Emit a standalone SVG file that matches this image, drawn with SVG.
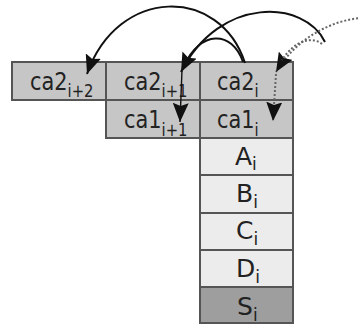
<svg xmlns="http://www.w3.org/2000/svg" width="360" height="325" viewBox="0 0 360 325">
<defs>
<style>
.ca{fill:#c6c6c6;stroke:#555;stroke-width:2}
.lt{fill:#ececec;stroke:#555;stroke-width:2}
.dk{fill:#9e9e9e;stroke:#555;stroke-width:2}
text{font-family:"DejaVu Sans",sans-serif;fill:#222}
.m{font-size:24px}
.b{font-size:25px}
.s{font-size:17px}
.arc{fill:none;stroke:#111;stroke-width:2}
.thin{fill:none;stroke:#111;stroke-width:1.4}
.dot{fill:none;stroke:#666;stroke-width:2;stroke-dasharray:2 2}
</style>
<marker id="ah" markerUnits="userSpaceOnUse" markerWidth="20" markerHeight="16" refX="19" refY="8" orient="auto" viewBox="0 0 20 16">
<path d="M0,0 L19,8 L0,16 L3,8 z" fill="#111"/>
</marker>
</defs>
<g id="ca2_i2"><rect class="ca" x="12" y="62" width="94" height="38"/><text class="m" transform="translate(30,90) scale(0.87,1)">ca2<tspan class="s" dy="7">i+2</tspan></text></g>
<g id="ca2_i1"><rect class="ca" x="106" y="62" width="94" height="38"/><text class="m" transform="translate(124,90) scale(0.87,1)">ca2<tspan class="s" dy="7">i+1</tspan></text></g>
<g id="ca2_i"><rect class="ca" x="200" y="62" width="93" height="38"/><text class="m" transform="translate(217,90) scale(0.87,1)">ca2<tspan class="s" dy="7">i</tspan></text></g>
<g id="ca1_i1"><rect class="ca" x="106" y="100" width="94" height="38"/><text class="m" transform="translate(124,128) scale(0.87,1)">ca1<tspan class="s" dy="8">i+1</tspan></text></g>
<g id="ca1_i"><rect class="ca" x="200" y="100" width="93" height="38"/><text class="m" transform="translate(217,128) scale(0.87,1)">ca1<tspan class="s" dy="8">i</tspan></text></g>
<g id="A_i"><rect class="lt" x="200" y="138" width="93" height="37"/><text class="b" x="235" y="165">A<tspan class="s" dy="5">i</tspan></text></g>
<g id="B_i"><rect class="lt" x="200" y="175" width="93" height="38"/><text class="b" x="236" y="202">B<tspan class="s" dy="6">i</tspan></text></g>
<g id="C_i"><rect class="lt" x="200" y="213" width="93" height="37"/><text class="b" x="236" y="239">C<tspan class="s" dy="6">i</tspan></text></g>
<g id="D_i"><rect class="lt" x="200" y="250" width="93" height="37"/><text class="b" x="236" y="277">D<tspan class="s" dy="6">i</tspan></text></g>
<g id="S_i"><rect class="dk" x="200" y="287" width="93" height="36"/><text class="b" x="237" y="315">S<tspan class="s" dy="6">i</tspan></text></g>
<g id="connectors">
<path class="arc" d="M245,63 C220,-14 118,-14 87,74" marker-end="url(#ah)"/>
<path class="arc" d="M325,42 C305,0 220,-5 181,72" marker-end="url(#ah)"/>
<path class="arc" d="M243,62 C232,30 200,30 184,66"/>
<path class="thin" d="M182,70 L180,122" marker-end="url(#ah)"/>
<path class="dot" d="M362,18 C330,20 295,40 276,72" marker-end="url(#ah)"/>
<path class="dot" d="M322,44 C312,36 295,40 282,60"/>
<path class="dot" d="M276,74 L273,121" marker-end="url(#ah)"/>
</g>
</svg>
